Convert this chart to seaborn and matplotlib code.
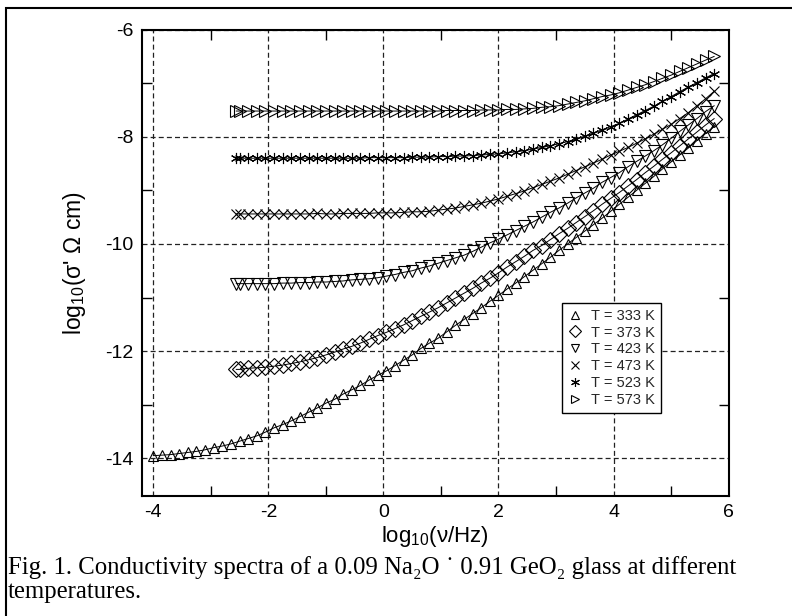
import numpy as np
import pandas as pd
import matplotlib
matplotlib.use('Agg')
import matplotlib.pyplot as plt
import seaborn as sns
from matplotlib.lines import Line2D
from matplotlib.patches import Rectangle
from matplotlib.ticker import MultipleLocator

sns.set_theme(style='white')
plt.rcParams['font.family'] = ['Liberation Sans', 'DejaVu Sans']
plt.rcParams['mathtext.default'] = 'regular'
plt.rcParams['axes.unicode_minus'] = False

# --- data (log10 frequency grid and log10 conductivity per temperature) ---
FREQ = [-4.00, -3.85, -3.70, -3.55, -3.40, -3.25, -3.10, -2.95, -2.80, -2.65,
        -2.50, -2.35, -2.20, -2.05, -1.90, -1.75, -1.60, -1.45, -1.30, -1.15,
        -1.00, -0.85, -0.70, -0.55, -0.40, -0.25, -0.10, 0.05, 0.20, 0.35,
        0.50, 0.65, 0.80, 0.95, 1.10, 1.25, 1.40, 1.55, 1.70, 1.85,
        2.00, 2.15, 2.30, 2.45, 2.60, 2.75, 2.90, 3.05, 3.20, 3.35,
        3.50, 3.65, 3.80, 3.95, 4.10, 4.25, 4.40, 4.55, 4.70, 4.85,
        5.00, 5.15, 5.30, 5.45, 5.60, 5.75]
START_HOT = -2.56   # doubled first point of the hot runs

S333 = [-13.95, -13.94, -13.93, -13.91, -13.89, -13.87, -13.84, -13.80, -13.77, -13.73,
        -13.68, -13.63, -13.58, -13.51, -13.43, -13.37, -13.30, -13.22, -13.14, -13.06,
        -12.97, -12.90, -12.80, -12.72, -12.64, -12.54, -12.45, -12.37, -12.27, -12.17,
        -12.07, -11.95, -11.85, -11.76, -11.64, -11.52, -11.41, -11.30, -11.19, -11.07,
        -10.96, -10.84, -10.73, -10.61, -10.49, -10.37, -10.25, -10.12, -10.00, -9.88,
        -9.76, -9.64, -9.52, -9.39, -9.26, -9.13, -9.00, -8.87, -8.74, -8.60,
        -8.47, -8.34, -8.21, -8.07, -7.94, -7.81]

S373 = [-12.34, -12.32, -12.31, -12.30, -12.28, -12.26, -12.23, -12.20, -12.16, -12.12,
        -12.07, -12.02, -11.96, -11.91, -11.85, -11.78, -11.71, -11.65, -11.58, -11.51,
        -11.43, -11.35, -11.27, -11.19, -11.10, -11.01, -10.92, -10.83, -10.73, -10.64,
        -10.54, -10.43, -10.33, -10.23, -10.12, -10.03, -9.92, -9.81, -9.71, -9.60,
        -9.49, -9.38, -9.26, -9.15, -9.04, -8.92, -8.80, -8.67, -8.55, -8.42,
        -8.30, -8.17, -8.04, -7.91, -7.78, -7.66]

S423 = [-10.74, -10.74, -10.74, -10.74, -10.74, -10.73, -10.73, -10.72, -10.72, -10.71,
        -10.71, -10.70, -10.69, -10.67, -10.66, -10.65, -10.63, -10.60, -10.57, -10.53,
        -10.50, -10.45, -10.41, -10.36, -10.31, -10.26, -10.21, -10.14, -10.06, -9.98,
        -9.91, -9.83, -9.75, -9.67, -9.59, -9.50, -9.41, -9.33, -9.24, -9.14,
        -9.05, -8.96, -8.85, -8.76, -8.67, -8.56, -8.46, -8.36, -8.26, -8.15,
        -8.03, -7.90, -7.78, -7.66, -7.53, -7.42]

S473 = [-9.44, -9.44, -9.44, -9.44, -9.44, -9.44, -9.44, -9.44, -9.44, -9.43,
        -9.44, -9.44, -9.43, -9.43, -9.43, -9.43, -9.42, -9.42, -9.42, -9.41,
        -9.40, -9.40, -9.39, -9.37, -9.35, -9.33, -9.30, -9.27, -9.24, -9.20,
        -9.16, -9.11, -9.06, -9.01, -8.95, -8.89, -8.83, -8.77, -8.70, -8.63,
        -8.56, -8.49, -8.42, -8.34, -8.27, -8.20, -8.12, -8.04, -7.95, -7.86,
        -7.77, -7.66, -7.55, -7.42, -7.29, -7.15]

S523 = [-8.40, -8.40, -8.40, -8.40, -8.40, -8.40, -8.40, -8.40, -8.40, -8.40,
        -8.40, -8.40, -8.40, -8.40, -8.40, -8.39, -8.39, -8.39, -8.39, -8.39,
        -8.38, -8.38, -8.38, -8.37, -8.37, -8.36, -8.36, -8.35, -8.34, -8.33,
        -8.32, -8.30, -8.28, -8.26, -8.23, -8.20, -8.17, -8.13, -8.09, -8.04,
        -7.99, -7.93, -7.87, -7.81, -7.75, -7.67, -7.59, -7.51, -7.43, -7.34,
        -7.25, -7.16, -7.07, -6.99, -6.90, -6.82]

S573 = [-7.52, -7.52, -7.52, -7.52, -7.52, -7.52, -7.52, -7.52, -7.52, -7.52,
        -7.52, -7.52, -7.52, -7.52, -7.52, -7.52, -7.52, -7.52, -7.52, -7.52,
        -7.52, -7.52, -7.52, -7.52, -7.51, -7.51, -7.51, -7.51, -7.50, -7.50,
        -7.50, -7.49, -7.49, -7.48, -7.47, -7.45, -7.44, -7.42, -7.39, -7.36,
        -7.33, -7.29, -7.25, -7.22, -7.18, -7.13, -7.08, -7.03, -6.97, -6.91,
        -6.85, -6.78, -6.71, -6.64, -6.57, -6.50]

TEMPS = [333, 373, 423, 473, 523, 573]
SERIES = [S333, S373, S423, S473, S523, S573]
MARKERS = ['^', 'D', 'v', 'x', (6, 2, 0), '>']
MSIZE = [7.5, 7.8, 8.0, 6.5, 8.0, 8.0]

CAPTION_1 = 'Fig. 1. Conductivity spectra of a 0.09 Na\u2082O \u02d9 0.91 GeO\u2082 glass at different'
CAPTION_2 = 'temperatures.'

# build tidy table
rows = []
for t, ys in zip(TEMPS, SERIES):
    xs = FREQ[len(FREQ) - len(ys):]
    if t != 333:
        xs = [START_HOT] + xs
        ys = [ys[0]] + ys
    for x, y in zip(xs, ys):
        rows.append({'T': t, 'logf': x, 'logs': y})
df = pd.DataFrame(rows)

fig = plt.figure(figsize=(7.92, 6.16), dpi=100)
ax = fig.add_axes([0.179, 0.195, 0.741, 0.757])

for t, m, ms in zip(TEMPS, MARKERS, MSIZE):
    sub = df[df['T'] == t]
    # thin fitted curve
    sns.lineplot(data=sub, x='logf', y='logs', ax=ax, color='black',
                 linewidth=0.7, estimator=None, sort=True, legend=False)
    # open symbols
    sns.lineplot(data=sub, x='logf', y='logs', ax=ax, color='black',
                 linestyle='none', marker=m, markersize=ms,
                 markerfacecolor='none', markeredgecolor='black',
                 markeredgewidth=0.8, estimator=None, legend=False)

ax.set_xlim(-4.2, 6)
ax.set_ylim(-14.7, -6)
ax.set_xticks([-4, -2, 0, 2, 4, 6])
ax.set_yticks([-14, -12, -10, -8, -6])
ax.xaxis.set_minor_locator(MultipleLocator(1))
ax.yaxis.set_minor_locator(MultipleLocator(1))
ax.tick_params(which='major', length=0, labelsize=14, pad=6, colors='black')
ax.tick_params(which='minor', direction='in', length=7, width=1,
               top=True, right=True, bottom=True, left=True, color='black')
ax.grid(True, which='major', color='#222222', linestyle=(0, (4, 2.5)), linewidth=0.9)
for s in ax.spines.values():
    s.set_color('black')
    s.set_linewidth(1.5)
    s.set_visible(True)

ax.set_xlabel('log$_{10}$(\u03bd/Hz)', fontsize=16, labelpad=2, color='black')
ax.set_ylabel("log$_{10}$(\u03c3' \u03a9 cm)", fontsize=16.5, labelpad=12, color='black')

handles = [Line2D([], [], linestyle='none', marker=m, markersize=ms * 0.8,
                  markerfacecolor='none', markeredgecolor='black', markeredgewidth=0.8)
           for m, ms in zip(MARKERS, MSIZE)]
labels = [f'T = {t} K' for t in TEMPS]
leg = ax.legend(handles, labels, loc='upper left', bbox_to_anchor=(0.716, 0.414),
                fontsize=10.5, frameon=True, fancybox=False, framealpha=1,
                edgecolor='black', handlelength=1.0, handletextpad=0.6,
                labelspacing=0.2, borderpad=0.4, borderaxespad=0)
leg.get_frame().set_linewidth(1.0)

# caption and outer frame
fig.text(8 / 792, 1 - 574 / 616, CAPTION_1, fontsize=17.8,
         family=['Liberation Serif', 'DejaVu Serif'], color='black')
fig.text(8 / 792, 1 - 598 / 616, CAPTION_2, fontsize=17.8,
         family=['Liberation Serif', 'DejaVu Serif'], color='black')
fig.patches.append(Rectangle((6 / 792, -0.1), 1.2, 1.1 - 8 / 616,
                             transform=fig.transFigure, fill=False,
                             edgecolor='black', linewidth=1.5))

fig.savefig('out.png', dpi=100, facecolor='white')
